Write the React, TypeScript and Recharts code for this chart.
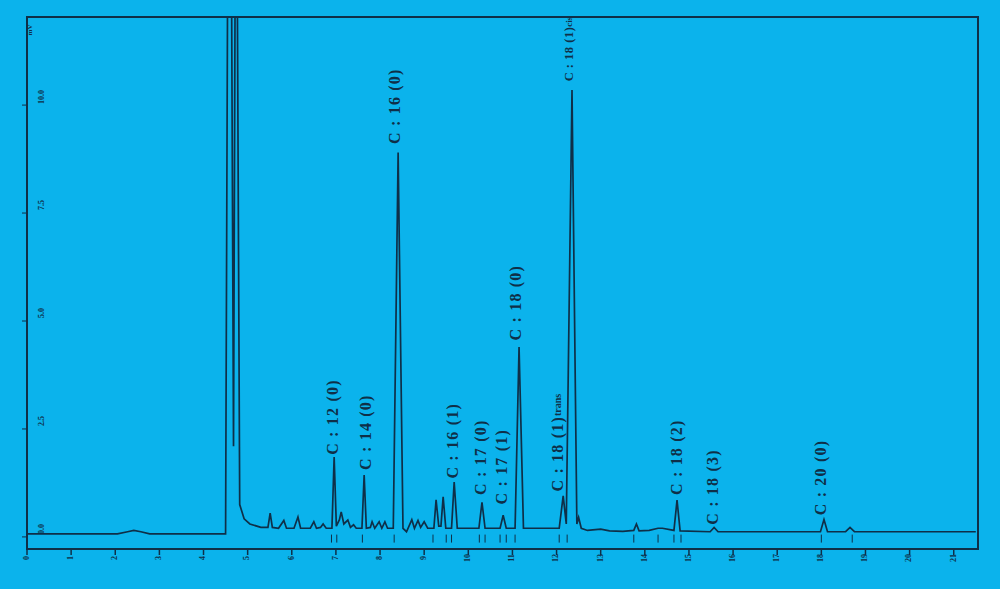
import React from 'react';
import {
    ComposedChart,
    Line,
    Scatter,
    XAxis,
    YAxis,
    ReferenceArea,
} from 'recharts';

// retention time (min) / detector response
const TIMES = [
    0, 2.05, 2.28, 2.42, 2.58, 2.78, 4.5,
    4.55, 4.63, 4.68, 4.72, 4.76, 4.82, 4.92, 5.05, 5.3,
    5.46, 5.51, 5.56, 5.7, 5.82, 5.88, 6.05, 6.14, 6.2, 6.42, 6.5, 6.56, 6.65, 6.71, 6.78,
    6.91, 6.96, 7.01, 7.08, 7.12, 7.18, 7.27, 7.33, 7.4, 7.46,
    7.59, 7.64, 7.69, 7.78, 7.82, 7.88, 7.98, 8.04, 8.11, 8.17,
    8.3, 8.41, 8.52, 8.6, 8.72, 8.78, 8.86, 8.92, 9.0, 9.08,
    9.22, 9.27, 9.33, 9.38, 9.43, 9.49, 9.62, 9.68, 9.75,
    10.24, 10.31, 10.38, 10.72, 10.79, 10.86, 11.06, 11.15, 11.25,
    12.06, 12.15, 12.22, 12.35, 12.46, 12.5, 12.56, 12.7, 13.0, 13.2, 13.5, 13.75, 13.81, 13.87, 14.1, 14.3, 14.4,
    14.66, 14.73, 14.8, 15.48, 15.57, 15.66, 17.98, 18.06, 18.14, 18.55, 18.65, 18.75, 21.5,
];
const SIGNAL = [
    0.07, 0.07, 0.12, 0.15, 0.12, 0.07, 0.07,
    14, 14, 2.1, 14, 14, 0.75, 0.42, 0.3, 0.22,
    0.22, 0.55, 0.22, 0.2, 0.38, 0.2, 0.2, 0.46, 0.2, 0.2, 0.35, 0.2, 0.22, 0.3, 0.2,
    0.2, 1.85, 0.25, 0.4, 0.58, 0.3, 0.39, 0.22, 0.28, 0.2,
    0.2, 1.43, 0.2, 0.22, 0.35, 0.2, 0.35, 0.2, 0.35, 0.2,
    0.2, 8.9, 0.2, 0.12, 0.4, 0.2, 0.38, 0.22, 0.35, 0.2,
    0.2, 0.86, 0.25, 0.25, 0.93, 0.2, 0.2, 1.27, 0.2,
    0.2, 0.8, 0.2, 0.2, 0.5, 0.2, 0.2, 4.4, 0.2,
    0.2, 0.95, 0.3, 10.35, 0.3, 0.45, 0.2, 0.15, 0.18, 0.14, 0.13, 0.15, 0.3, 0.14, 0.15, 0.2, 0.2,
    0.15, 0.85, 0.14, 0.12, 0.22, 0.12, 0.12, 0.4, 0.12, 0.12, 0.22, 0.12, 0.12,
];

// peak annotations (main part + small suffix)
const PEAK_NAMES = [
    'C : 12 (0)', 'C : 14 (0)', 'C : 16 (0)', 'C : 16 (1)', 'C : 17 (0)', 'C : 17 (1)',
    'C : 18 (0)', 'C : 18 (1)', 'C : 18 (1)', 'C : 18 (2)', 'C : 18 (3)', 'C : 20 (0)',
];
const PEAK_SUFFIX = ['', '', '', '', '', '', '', 'trans', 'cis', '', '', ''];
const PEAK_TIMES = [6.96, 7.72, 8.38, 9.68, 10.31, 10.79, 11.12, 12.06, 12.3, 14.75, 15.57, 18.02];
const LABEL_BASE = [1.9, 1.55, 9.1, 1.35, 0.97, 0.75, 4.55, 1.05, 10.55, 0.97, 0.28, 0.5];

// integration marks under the baseline
const MARKS = [6.9, 7.02, 7.6, 8.32, 9.2, 9.5, 9.62, 10.25, 10.38, 10.72, 10.86, 11.06, 12.06, 12.24, 13.75, 14.3, 14.66, 14.82, 18.0, 18.7];

const X_TICKS = [0, 1, 2, 3, 4, 5, 6, 7, 8, 9, 10, 11, 12, 13, 14, 15, 16, 17, 18, 19, 20, 21];
const Y_TICKS = [0, 2.5, 5, 7.5, 10];
const Y_TICK_LABELS = ['0.0', '2.5', '5.0', '7.5', '10.0'];

const INK = '#0f2f48';
const BG = '#0bb3ec';

const trace = TIMES.map((t, i) => ({ t, v: SIGNAL[i] }));
const peaks = PEAK_NAMES.map((name, i) => ({ t: PEAK_TIMES[i], v: LABEL_BASE[i], name, suffix: PEAK_SUFFIX[i] }));
const marks = MARKS.map((t) => ({ t, v: 0.1 }));

const XTick = ({ x, y, payload }: any) => (
    <g>
        <line x1={x} y1={y - 8} x2={x} y2={y - 2} stroke={INK} strokeWidth={1.5} />
        <text
            x={x}
            y={y + 1}
            transform={`rotate(-90 ${x} ${y + 1})`}
            textAnchor="middle"
            dominantBaseline="middle"
            fontSize={8}
            fontWeight="bold"
            fill={INK}
        >
            {payload.value}
        </text>
    </g>
);

const YTick = ({ y, payload, index }: any) => (
    <text
        x={42}
        y={y - 8}
        transform={`rotate(-90 42 ${y - 8})`}
        textAnchor="middle"
        dominantBaseline="middle"
        fontSize={8}
        fontWeight="bold"
        fill={INK}
    >
        {Y_TICK_LABELS[index] ?? payload.value}
    </text>
);

const PeakLabel = ({ cx, cy, payload }: any) => {
    // the top label has to squeeze in under the frame
    const tight = payload.suffix === 'cis';
    return (
        <text
            x={cx}
            y={cy}
            transform={`rotate(-90 ${cx} ${cy})`}
            textAnchor="start"
            dominantBaseline="middle"
            fontSize={tight ? 12.5 : 16}
            letterSpacing={tight ? 0.5 : 1.2}
            fontWeight="bold"
            fontFamily="'Liberation Serif', serif"
            fill={INK}
        >
            {payload.name}
            {payload.suffix ? <tspan fontSize={tight ? 9 : 10} letterSpacing={0}>{payload.suffix}</tspan> : null}
        </text>
    );
};

const Mark = ({ cx, cy }: any) => (
    <line x1={cx} y1={cy + 2} x2={cx} y2={cy + 10} stroke={INK} strokeWidth={1} />
);

const App: React.FC = () => {
    return (
        <div style={{ position: 'absolute', left: 0, top: 0, width: 1000, height: 589, background: BG }}>
            <ComposedChart
                width={1000}
                height={589}
                data={trace}
                margin={{ top: 17, right: 22, bottom: 0, left: 0 }}
                style={{ fontFamily: "'Liberation Serif', serif" }}
            >
                <XAxis
                    dataKey="t"
                    type="number"
                    domain={[0, 21.55]}
                    ticks={X_TICKS}
                    interval={0}
                    height={40}
                    axisLine={{ stroke: INK, strokeWidth: 2 }}
                    tickLine={false}
                    tick={<XTick />}
                    allowDataOverflow
                />
                <YAxis
                    type="number"
                    domain={[-0.28, 12.04]}
                    ticks={Y_TICKS}
                    interval={0}
                    width={27}
                    axisLine={{ stroke: INK, strokeWidth: 2 }}
                    tickLine={{ stroke: INK }}
                    tickSize={5}
                    tick={<YTick />}
                    allowDataOverflow
                />
                <ReferenceArea
                    x1={0}
                    x2={21.55}
                    y1={-0.28}
                    y2={12.04}
                    fill="none"
                    stroke={INK}
                    strokeWidth={2}
                />
                <text
                    x={30}
                    y={30}
                    transform="rotate(-90 30 30)"
                    textAnchor="middle"
                    dominantBaseline="middle"
                    fontSize={7}
                    fontWeight="bold"
                    fill={INK}
                >
                    mV
                </text>
                <Line
                    dataKey="v"
                    type="linear"
                    stroke={INK}
                    strokeWidth={1.7}
                    dot={false}
                    isAnimationActive={false}
                />
                <Scatter data={marks} dataKey="v" shape={<Mark />} isAnimationActive={false} />
                <Scatter data={peaks} dataKey="v" shape={<PeakLabel />} isAnimationActive={false} />
            </ComposedChart>
        </div>
    );
};

export default App;
